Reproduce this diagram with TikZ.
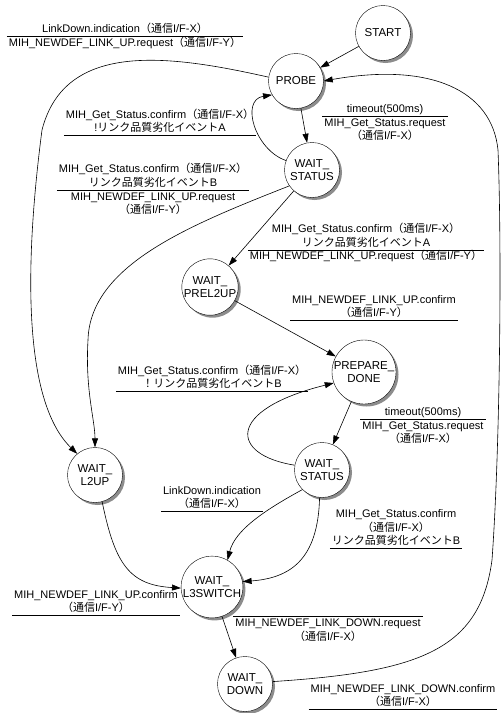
\documentclass[tikz,border=0pt]{standalone}
\usepackage{fontspec}
\usepackage{array}
\setmainfont{Liberation Sans}
\newfontfamily\jpfont{Noto Sans CJK JP}
\newcommand{\jp}[1]{{\jpfont #1}}
\newcommand{\tsushin}[1]{\jp{（通信}I/F-#1\jp{）}}
\newcommand{\evlabel}[1]{\begin{tabular}{c}#1\end{tabular}}
\setlength{\tabcolsep}{2pt}
\setlength{\extrarowheight}{2pt}
\renewcommand{\arraystretch}{0.9}
\usetikzlibrary{arrows.meta, shadows}

\begin{document}
\begin{tikzpicture}[
    x=1pt, y=1pt,
    state/.style={circle, draw, fill=white, minimum size=55pt, inner sep=0pt, align=center, font=\fontsize{11.5}{13}\selectfont, drop shadow={fill=black!75, opacity=0.6, shadow xshift=2.5pt, shadow yshift=-2.5pt}},
    event/.style={inner sep=0pt, font=\fontsize{11}{13}\selectfont},
    arrow/.style={-{Triangle[length=9pt, width=6pt]}, line width=0.6pt}
]
\useasboundingbox (0,0) rectangle (502,-713);

% states
\node[state] (start) at (383,-33) {START};
\node[state] (probe) at (296,-81) {PROBE};
\node[state] (wstatA) at (312,-170) {WAIT\_\\STATUS};
\node[state] (prel2up) at (210,-287) {WAIT\_\\PREL2UP};
\node[state] (prepare) at (364,-372) {PREPARE\_\\DONE};
\node[state] (wstatB) at (322,-470) {WAIT\_\\STATUS};
\node[state] (l2up) at (95,-475) {WAIT\_\\L2UP};
\node[state] (l3switch) at (212,-587) {WAIT\_\\L3SWITCH};
\node[state] (wdown) at (245,-684) {WAIT\_\\DOWN};

% events / actions
\node[event] (evA) at (125,-36) {\evlabel{LinkDown.indication\tsushin{X}\\ \hline MIH\_NEWDEF\_LINK\_UP.request\tsushin{Y}}};
\node[event] (evB) at (385,-123) {\evlabel{timeout(500ms)\\ \hline MIH\_Get\_Status.request\\ \tsushin{X}}};
\node[event] (evC) at (160,-122) {\evlabel{MIH\_Get\_Status.confirm\tsushin{X}\\ !\jp{リンク品質劣化イベント}A\\ \hline}};
\node[event] (evD) at (153,-190) {\evlabel{MIH\_Get\_Status.confirm\tsushin{X}\\ \jp{リンク品質劣化イベント}B\\ \hline MIH\_NEWDEF\_LINK\_UP.request\\ \tsushin{Y}}};
\node[event] (evE) at (366,-243) {\evlabel{MIH\_Get\_Status.confirm\tsushin{X}\\ \jp{リンク品質劣化イベント}A\\ \hline MIH\_NEWDEF\_LINK\_UP.request\tsushin{Y}}};
\node[event] (evF) at (374,-307) {\evlabel{MIH\_NEWDEF\_LINK\_UP.confirm\\ \tsushin{Y}\\ \hline}};
\node[event] (evG) at (212,-378) {\evlabel{MIH\_Get\_Status.confirm\tsushin{X}\\ \jp{！リンク品質劣化イベント}B\\ \hline}};
\node[event] (evH) at (423,-426) {\evlabel{timeout(500ms)\\ \hline MIH\_Get\_Status.request\\ \tsushin{X}}};
\node[event] (evI) at (212,-498) {\evlabel{LinkDown.indication\\ \tsushin{X}\\ \hline}};
\node[event] (evJ) at (396,-528) {\evlabel{MIH\_Get\_Status.confirm\\ \tsushin{X}\\ \jp{リンク品質劣化イベント}B\\ \hline}};
\node[event] (evK) at (96,-602) {\evlabel{MIH\_NEWDEF\_LINK\_UP.confirm\\ \tsushin{Y}\\ \hline}};
\node[event] (evL) at (328,-630) {\evlabel{\hline MIH\_NEWDEF\_LINK\_DOWN.request\\ \tsushin{X}}};
\node[event] (evM) at (403,-696) {\evlabel{MIH\_NEWDEF\_LINK\_DOWN.confirm\\ \tsushin{X}\\ \hline}};

% transitions
\draw[arrow] (start) -- (probe);
\draw[arrow] (probe) -- (wstatA);
\draw[arrow] (wstatA.160) .. controls (255,-150) and (240,-100) .. (probe.210);
\draw[arrow] (probe.172) .. controls (170,-55) and (65,-40) .. (42,-130) .. controls (25,-260) and (22,-400) .. (l2up.130);
\draw[arrow] (wstatA.215) .. controls (190,-225) and (90,-265) .. (88,-340) .. controls (85,-390) and (95,-420) .. (l2up.north);
\draw[arrow] (wstatA) -- (prel2up);
\draw[arrow] (prel2up) -- (prepare);
\draw[arrow] (prepare) -- (wstatB);
\draw[arrow] (wstatB.170) .. controls (230,-455) and (225,-410) .. (prepare.200);
\draw[arrow] (wstatB.225) .. controls (265,-510) and (235,-530) .. (l3switch.60);
\draw[arrow] (wstatB.265) .. controls (318,-560) and (290,-578) .. (l3switch.10);
\draw[arrow] (l2up.285) .. controls (115,-565) and (130,-585) .. (l3switch.182);
\draw[arrow] (l3switch) -- (wdown);
\draw[arrow] (wdown.5) .. controls (420,-672) and (480,-650) .. (492,-560) .. controls (500,-450) and (502,-250) .. (498,-150) .. controls (492,-90) and (430,-62) .. (probe.east);
\end{tikzpicture}
\end{document}
